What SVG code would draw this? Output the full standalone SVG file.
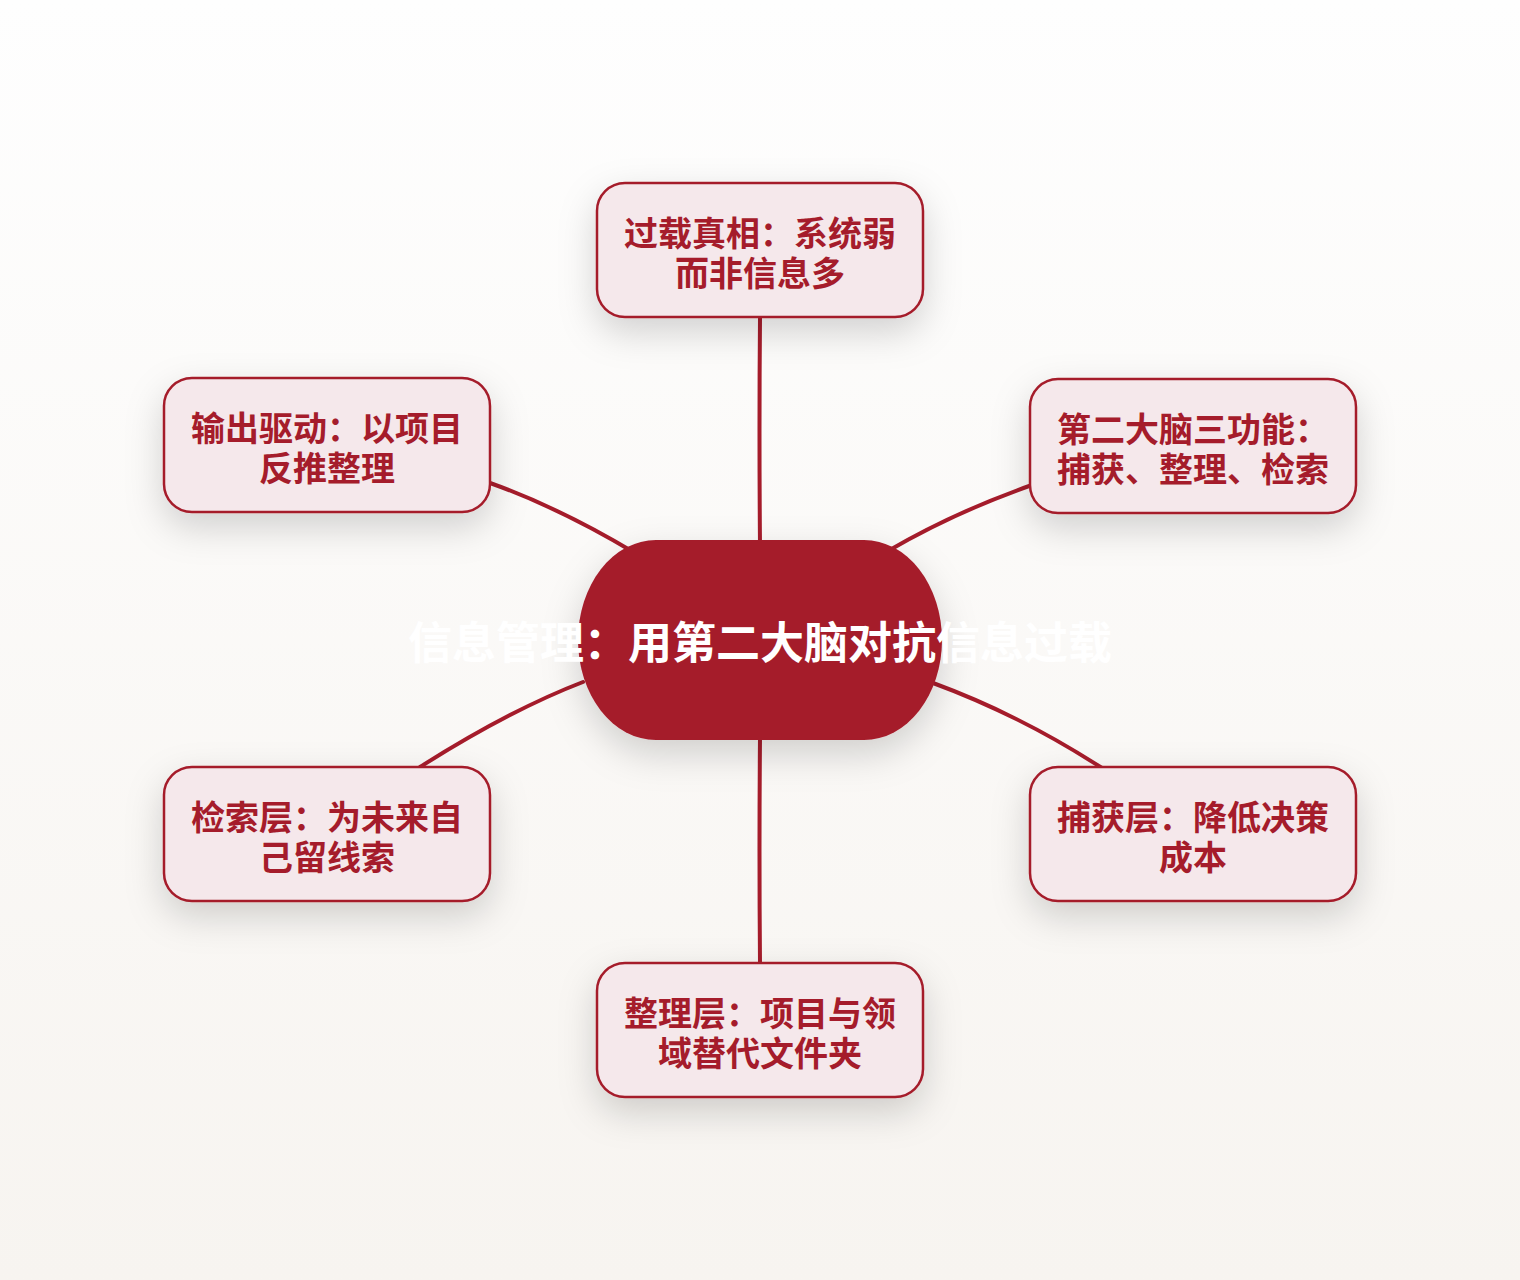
<svg xmlns="http://www.w3.org/2000/svg" width="1520" height="1280" viewBox="0 0 1520 1280">
<defs>
<linearGradient id="bg" x1="0" y1="0" x2="0" y2="1">
<stop offset="0" stop-color="#fefefe"/>
<stop offset="1" stop-color="#f7f4f0"/>
</linearGradient>
<filter id="sh" x="-30%" y="-30%" width="160%" height="190%">
<feDropShadow dx="0" dy="14" stdDeviation="18" flood-color="#000" flood-opacity="0.17"/>
</filter>
</defs>
<style>
.edge{fill:none;stroke:#a51c2b;stroke-width:4;stroke-linecap:round}
.box{fill:#f5e8eb;stroke:#a51c2b;stroke-width:2.5;filter:url(#sh)}
.lbl{font-family:"Noto Sans CJK SC","Noto Sans",sans-serif;font-weight:700;font-size:34px;fill:#a51c2b;text-anchor:middle;dominant-baseline:central}
.ctr{font-family:"Noto Sans CJK SC","Noto Sans",sans-serif;font-weight:700;font-size:44px;fill:#ffffff;text-anchor:middle;dominant-baseline:central}
</style>
<rect x="0" y="0" width="1520" height="1280" fill="url(#bg)"/>
<g id="connectors">
<path class="edge" d="M760,318 Q759,430 760,545"/>
<path class="edge" d="M490,483 Q560,508 635,553"/>
<path class="edge" d="M888,551 Q955,512 1032,485"/>
<path class="edge" d="M583,682 Q510,710 420,767"/>
<path class="edge" d="M933,683 Q1020,715 1102,768"/>
<path class="edge" d="M760,738 Q759,850 760,963"/>
</g>
<g id="center">
<rect x="578" y="540" width="364" height="200" rx="78" ry="100" fill="#a51c2b" filter="url(#sh)"/>
</g>
<g id="n-top">
<rect class="box" x="597" y="183" width="326" height="134" rx="28"/>
<text class="lbl" x="760" y="231">过载真相：系统弱</text>
<text class="lbl" x="760" y="271">而非信息多</text>
</g>
<g id="n-tl">
<rect class="box" x="164" y="378" width="326" height="134" rx="28"/>
<text class="lbl" x="327" y="426">输出驱动：以项目</text>
<text class="lbl" x="327" y="466">反推整理</text>
</g>
<g id="n-tr">
<rect class="box" x="1030" y="379" width="326" height="134" rx="28"/>
<text class="lbl" x="1193" y="427">第二大脑三功能：</text>
<text class="lbl" x="1193" y="467">捕获、整理、检索</text>
</g>
<g id="n-bl">
<rect class="box" x="164" y="767" width="326" height="134" rx="28"/>
<text class="lbl" x="327" y="815">检索层：为未来自</text>
<text class="lbl" x="327" y="855">己留线索</text>
</g>
<g id="n-br">
<rect class="box" x="1030" y="767" width="326" height="134" rx="28"/>
<text class="lbl" x="1193" y="815">捕获层：降低决策</text>
<text class="lbl" x="1193" y="855">成本</text>
</g>
<g id="n-bottom">
<rect class="box" x="597" y="963" width="326" height="134" rx="28"/>
<text class="lbl" x="760" y="1011">整理层：项目与领</text>
<text class="lbl" x="760" y="1051">域替代文件夹</text>
</g>
<g id="center-label">
<text class="ctr" x="760" y="640">信息管理：用第二大脑对抗信息过载</text>
</g>
</svg>
